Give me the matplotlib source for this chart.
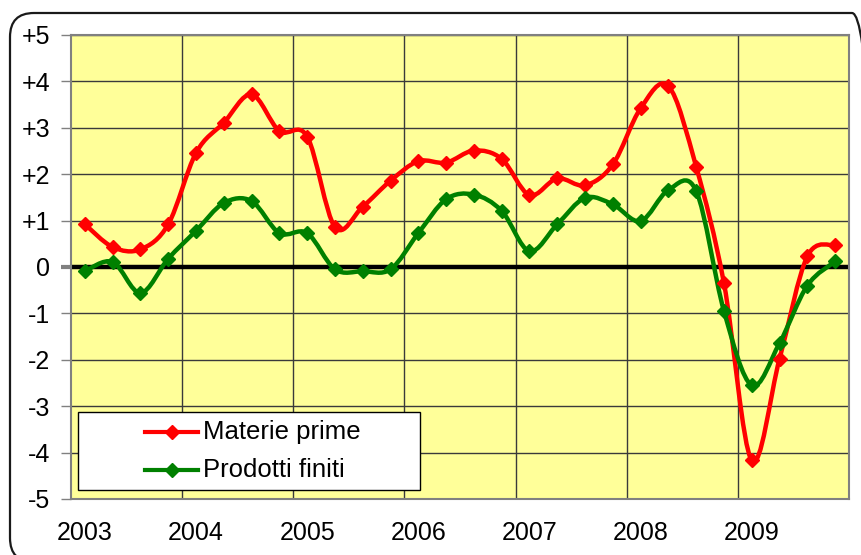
import matplotlib
matplotlib.use("Agg")
import matplotlib.pyplot as plt
import numpy as np
from matplotlib.path import Path
from matplotlib.patches import PathPatch, FancyBboxPatch, Rectangle
from matplotlib.lines import Line2D

# ---- data (quarterly, 2003Q1 .. 2009Q4) ----
years = ["2003", "2004", "2005", "2006", "2007", "2008", "2009"]
materie_prime = [0.92, 0.43, 0.38, 0.92, 2.46, 3.11, 3.72, 2.93,
                 2.81, 0.86, 1.30, 1.86, 2.28, 2.25, 2.51, 2.33,
                 1.55, 1.91, 1.76, 2.21, 3.42, 3.90, 2.16, -0.35,
                 -4.17, -1.98, 0.23, 0.47]
prodotti_finiti = [-0.09, 0.11, -0.56, 0.18, 0.78, 1.38, 1.42, 0.73,
                   0.73, -0.05, -0.09, -0.05, 0.73, 1.46, 1.56, 1.21,
                   0.34, 0.92, 1.49, 1.35, 0.99, 1.66, 1.64, -0.95,
                   -2.55, -1.64, -0.40, 0.12]
series_names = ["Materie prime", "Prodotti finiti"]
series_colors = ["#FF0000", "#008000"]
y_ticks = [5, 4, 3, 2, 1, 0, -1, -2, -3, -4, -5]
y_labels = ["+5", "+4", "+3", "+2", "+1", "0", "-1", "-2", "-3", "-4", "-5"]

FONT = "Liberation Sans"
FS = 18

W, H = 862, 555
fig = plt.figure(figsize=(W / 100, H / 100), dpi=100)
fig.patch.set_facecolor("white")

L, R, T, B = 71, 849, 35, 499
ax = fig.add_axes([L / W, (H - B) / H, (R - L) / W, (B - T) / H])
ax.set_facecolor("#FFFF99")


def px2ax(px, py):
    return (px - L) / (R - L), (B - py) / (B - T)


n = len(materie_prime)
x = np.arange(n)


def smooth_path(xs, ys):
    pts = np.column_stack([xs, ys]).astype(float)
    m = len(pts)
    verts = [pts[0]]
    codes = [Path.MOVETO]
    for i in range(m - 1):
        p0 = pts[max(i - 1, 0)]
        p1 = pts[i]
        p2 = pts[i + 1]
        p3 = pts[min(i + 2, m - 1)]
        c1 = p1 + (p2 - p0) / 6.0
        c2 = p2 - (p3 - p1) / 6.0
        verts += [c1, c2, p2]
        codes += [Path.CURVE4] * 3
    return Path(verts, codes)


# grid
for yv in y_ticks:
    if yv != 0:
        ax.axhline(yv, color="#3a3a3a", lw=1.0, zorder=1)
for k in range(1, len(years)):
    ax.axvline(4 * k - 0.5, color="#3a3a3a", lw=1.0, zorder=1)
ax.axhline(0, color="black", lw=3.2, zorder=2)

for vals, name, col in zip([materie_prime, prodotti_finiti], series_names, series_colors):
    p = PathPatch(smooth_path(x, vals), facecolor="none", edgecolor=col, lw=3.2,
                  zorder=3, capstyle="round", joinstyle="round")
    ax.add_patch(p)
    ax.plot(x, vals, linestyle="none", marker="D", markersize=7.5, color=col, zorder=4)

ax.set_xlim(-0.5, n - 0.5)
ax.set_ylim(-5, 5)

ax.set_yticks(y_ticks)
ax.set_yticklabels(y_labels, fontfamily=FONT, fontsize=FS)
ax.set_xticks([4 * i for i in range(len(years))])
ax.set_xticklabels(years, fontfamily=FONT, fontsize=FS)
ax.tick_params(axis="y", length=7, width=1, color="#808080", pad=8)
ax.tick_params(axis="x", length=0, pad=16)
for tk, yv in zip(ax.yaxis.get_major_ticks(), y_ticks):
    if yv == 0:
        tk.tick1line.set_color("black")
        tk.tick1line.set_markeredgewidth(3)

for s in ax.spines.values():
    s.set_color("#808080")
    s.set_linewidth(1.5)

# legend (box + entries drawn in axes coordinates)
bx0, by0 = px2ax(78, 490)
bx1, by1 = px2ax(420, 412)
ax.add_patch(Rectangle((bx0, by0), bx1 - bx0, by1 - by0, transform=ax.transAxes,
                       facecolor="white", edgecolor="black", lw=1.0, zorder=10,
                       clip_on=False))
rows_y = [432, 470]
for name, col, ry in zip(series_names, series_colors, rows_y):
    lx0, ly = px2ax(145, ry)
    lx1, _ = px2ax(198, ry)
    ax.add_line(Line2D([lx0, lx1], [ly, ly], transform=ax.transAxes, color=col, lw=3.0,
                       zorder=11, clip_on=False))
    ax.add_line(Line2D([(lx0 + lx1) / 2], [ly], transform=ax.transAxes, color=col,
                       marker="D", markersize=7.5, linestyle="none", zorder=12,
                       clip_on=False))
    tx, _ = px2ax(203, ry)
    ax.text(tx, ly, name, transform=ax.transAxes, fontfamily=FONT, fontsize=18.5,
            ha="left", va="center", zorder=12)

# outer rounded frame (right and bottom edges run off the image)
frame = FancyBboxPatch((0.10, -0.07), 8.66, 5.49,
                       boxstyle="round,pad=0,rounding_size=0.24",
                       transform=fig.dpi_scale_trans, facecolor="none",
                       edgecolor="#1a1a1a", lw=1.6, zorder=0)
fig.patches.append(frame)

fig.savefig("out.png", dpi=100, facecolor="white")
